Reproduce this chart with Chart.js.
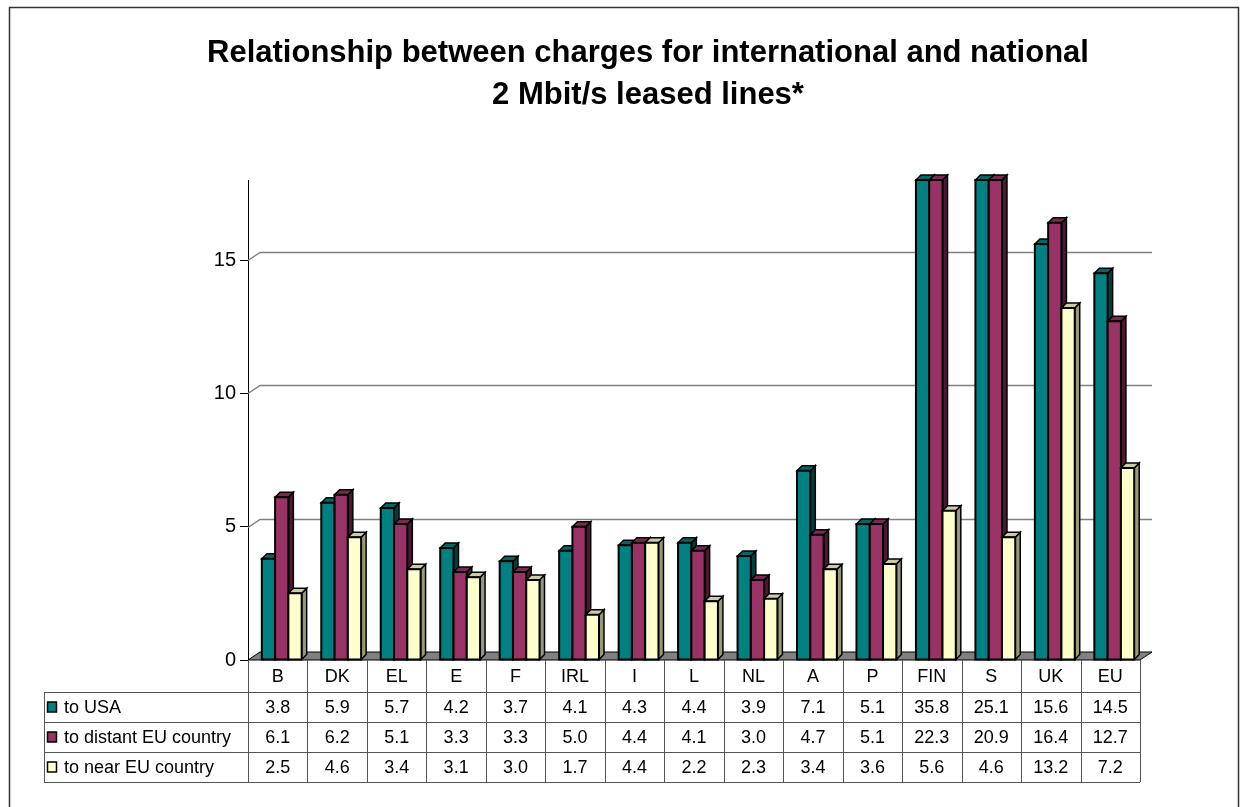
<!DOCTYPE html>
<html>
<head>
<meta charset="utf-8">
<script src="https://cdn.jsdelivr.net/npm/chart.js"></script>
<style>
  html, body { margin: 0; padding: 0; background: #fff; }
  #wrap { width: 1243px; height: 807px; }
</style>
</head>
<body>
<div id="wrap"><canvas id="leased-lines-chart" width="1243" height="807"></canvas></div>
<script>
const categories = ['B', 'DK', 'EL', 'E', 'F', 'IRL', 'I', 'L', 'NL', 'A', 'P', 'FIN', 'S', 'UK', 'EU'];
const toUSA = [3.8, 5.9, 5.7, 4.2, 3.7, 4.1, 4.3, 4.4, 3.9, 7.1, 5.1, 35.8, 25.1, 15.6, 14.5];
const toDistantEU = [6.1, 6.2, 5.1, 3.3, 3.3, 5.0, 4.4, 4.1, 3.0, 4.7, 5.1, 22.3, 20.9, 16.4, 12.7];
const toNearEU = [2.5, 4.6, 3.4, 3.1, 3.0, 1.7, 4.4, 2.2, 2.3, 3.4, 3.6, 5.6, 4.6, 13.2, 7.2];
const yTicks = [0, 5, 10, 15];
const yMax = 18;

const FONT = 'Arial, "Liberation Sans", sans-serif';
// front / side / top colours for the fake 3d bars
const shades = [
    { front: '#008080', side: '#004040', top: '#006666' },
    { front: '#993366', side: '#4c1933', top: '#7a2952' },
    { front: '#ffffcc', side: '#99997a', top: '#ccccA3' }
];
const DEPTH_X = 12, DEPTH_Y = 8;   // wall depth
const BAR_DX = 5, BAR_DY = 5;      // bar depth
const BAR_SHIFT = 4;

function poly(ctx, pts, fill, stroke, lw) {
    ctx.beginPath();
    ctx.moveTo(pts[0][0], pts[0][1]);
    for (let i = 1; i < pts.length; i++) ctx.lineTo(pts[i][0], pts[i][1]);
    ctx.closePath();
    if (fill) { ctx.fillStyle = fill; ctx.fill(); }
    if (stroke) { ctx.strokeStyle = stroke; ctx.lineWidth = lw || 1; ctx.stroke(); }
}

const chart3d = {
    id: 'chart3d',
    beforeDraw(chart) {
        const ctx = chart.ctx;
        ctx.save();
        ctx.fillStyle = '#fff';
        ctx.fillRect(0, 0, chart.width, chart.height);
        ctx.strokeStyle = '#333';
        ctx.lineWidth = 1.5;
        ctx.strokeRect(9.5, 7.5, 1229, 810);
        ctx.restore();
    },
    beforeDatasetsDraw(chart) {
        const ctx = chart.ctx, a = chart.chartArea, y = chart.scales.y;
        ctx.save();
        // back grid lines
        y.ticks.forEach(t => {
            if (t.value === 0) return;
            const py = Math.round(y.getPixelForValue(t.value)) + 0.5;
            ctx.beginPath();
            ctx.moveTo(a.left, py);
            ctx.lineTo(a.left + DEPTH_X, py - DEPTH_Y);
            ctx.lineTo(a.right + DEPTH_X, py - DEPTH_Y);
            ctx.strokeStyle = '#808080';
            ctx.lineWidth = 1.5;
            ctx.stroke();
        });
        // floor
        const fy = y.getPixelForValue(0);
        poly(ctx, [[a.left, fy], [a.left + DEPTH_X, fy - DEPTH_Y], [a.right + DEPTH_X, fy - DEPTH_Y], [a.right, fy]], '#808080', '#000', 1);
        ctx.restore();
    },
    beforeDatasetDraw() {
        return false;
    },
    afterDatasetsDraw(chart) {
        const ctx = chart.ctx, a = chart.chartArea;
        ctx.save();
        ctx.lineJoin = 'miter';
        for (let i = 0; i < categories.length; i++) {
            chart.data.datasets.forEach((ds, d) => {
                const el = chart.getDatasetMeta(d).data[i];
                const p = el.getProps(['x', 'y', 'base', 'width'], true);
                const l = p.x - p.width / 2 + BAR_SHIFT, r = p.x + p.width / 2 + BAR_SHIFT;
                const t = Math.max(p.y, a.top), b = p.base;
                const c = shades[d];
                poly(ctx, [[r, b], [r + BAR_DX, b - BAR_DY], [r + BAR_DX, t - BAR_DY], [r, t]], c.side, '#000', 1.5);
                poly(ctx, [[l, t], [l + BAR_DX, t - BAR_DY], [r + BAR_DX, t - BAR_DY], [r, t]], c.top, '#000', 1.5);
                poly(ctx, [[l, b], [l, t], [r, t], [r, b]], c.front, '#000', 2);
            });
        }
        ctx.restore();
    },
    afterDraw(chart) {
        const ctx = chart.ctx, xs = chart.scales.x;
        const n = categories.length;
        const colW = (xs.right - xs.left) / n;
        const tableLeft = 44, rowH = 30;
        const top = xs.bottom;
        const rows = [
            { label: 'to USA', values: toUSA },
            { label: 'to distant EU country', values: toDistantEU },
            { label: 'to near EU country', values: toNearEU }
        ];
        ctx.save();
        ctx.strokeStyle = '#555';
        ctx.lineWidth = 1;
        // horizontal lines
        for (let k = 0; k <= rows.length; k++) {
            const py = Math.round(top + k * rowH) + 0.5;
            ctx.beginPath();
            ctx.moveTo(tableLeft, py);
            ctx.lineTo(xs.right, py);
            ctx.stroke();
        }
        // vertical lines
        for (let j = 0; j <= n; j++) {
            const px = Math.round(xs.left + j * colW) + 0.5;
            ctx.beginPath();
            ctx.moveTo(px, xs.top);
            ctx.lineTo(px, top + rows.length * rowH);
            ctx.stroke();
        }
        ctx.beginPath();
        ctx.moveTo(tableLeft + 0.5, top);
        ctx.lineTo(tableLeft + 0.5, top + rows.length * rowH);
        ctx.stroke();

        ctx.font = '18px ' + FONT;
        ctx.fillStyle = '#000';
        ctx.textBaseline = 'middle';
        rows.forEach((row, k) => {
            const cy = top + k * rowH + rowH / 2;
            ctx.fillStyle = shades[k].front;
            ctx.fillRect(47.5, cy - 5, 9, 10);
            ctx.strokeStyle = '#000';
            ctx.lineWidth = 1.5;
            ctx.strokeRect(47.5, cy - 5, 9, 10);
            ctx.fillStyle = '#000';
            ctx.textAlign = 'left';
            ctx.fillText(row.label, 64, cy + 1);
            ctx.textAlign = 'center';
            row.values.forEach((v, j) => {
                ctx.fillText(v.toFixed(1), xs.getPixelForValue(j), cy + 1);
            });
        });
        ctx.restore();
    }
};

const ctx = document.getElementById('leased-lines-chart').getContext('2d');
const myChart = new Chart(ctx, {
    type: 'bar',
    data: {
        labels: categories,
        datasets: [
            { label: 'to USA', data: toUSA, backgroundColor: shades[0].front },
            { label: 'to distant EU country', data: toDistantEU, backgroundColor: shades[1].front },
            { label: 'to near EU country', data: toNearEU, backgroundColor: shades[2].front }
        ]
    },
    options: {
        responsive: false,
        animation: false,
        layout: { padding: { left: 156, right: 103, top: 0, bottom: 115 } },
        datasets: { bar: { categoryPercentage: 0.67, barPercentage: 1.0 } },
        plugins: {
            legend: { display: false },
            tooltip: { enabled: false },
            title: {
                display: true,
                text: ['Relationship between charges for international and national', '2 Mbit/s leased lines*'],
                color: '#000',
                font: { family: FONT, size: 31, weight: 'bold', lineHeight: 1.355 },
                padding: { top: 32, bottom: 64 }
            }
        },
        scales: {
            x: {
                grid: { display: false, drawTicks: false },
                border: { display: false },
                ticks: { color: '#000', font: { family: FONT, size: 18 }, padding: 6 },
                afterFit(scale) { scale.height = 32; }
            },
            y: {
                min: 0,
                max: yMax,
                afterBuildTicks(scale) { scale.ticks = yTicks.map(v => ({ value: v })); },
                grid: { drawOnChartArea: false, drawTicks: true, tickLength: 8, color: '#000' },
                border: { display: true, color: '#000', width: 1 },
                ticks: { color: '#000', font: { family: FONT, size: 20 }, padding: 4 },
                afterFit(scale) { scale.width = 92; }
            }
        }
    },
    plugins: [chart3d]
});
</script>
</body>
</html>
